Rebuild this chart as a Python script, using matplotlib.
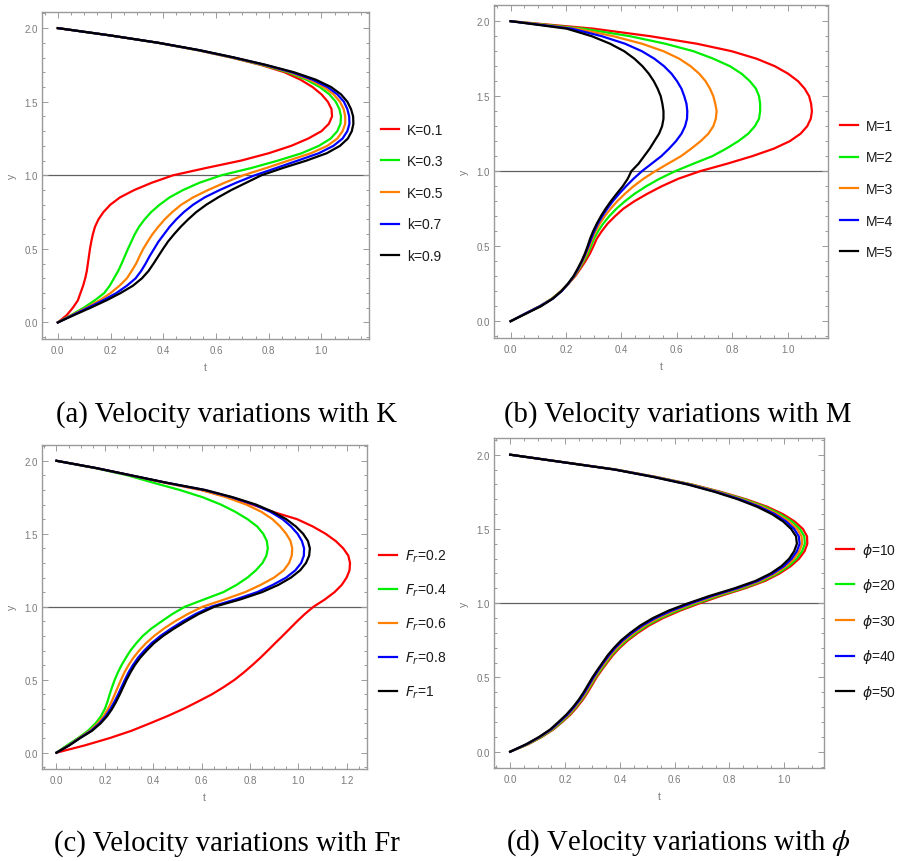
import matplotlib
matplotlib.use('Agg')
import matplotlib.pyplot as plt
from matplotlib.font_manager import FontProperties
from matplotlib.ticker import MultipleLocator, FormatStrFormatter

plt.rcParams['font.family'] = ['Liberation Sans', 'DejaVu Sans']
plt.rcParams['mathtext.fontset'] = 'dejavusans'

# velocity profiles: t sampled along the channel height y
y = [0.00, 0.05, 0.10, 0.15, 0.20, 0.25, 0.30, 0.35, 0.40, 0.45,
     0.50, 0.55, 0.60, 0.65, 0.70, 0.75, 0.80, 0.85, 0.90, 0.95,
     1.00, 1.05, 1.10, 1.15, 1.20, 1.25, 1.30, 1.35, 1.40, 1.45,
     1.50, 1.55, 1.60, 1.65, 1.70, 1.75, 1.80, 1.85, 1.90, 1.95, 2.00]

# (a) varying K
labels_K = ['K=0.1', 'K=0.3', 'K=0.5', 'k=0.7', 'k=0.9']
t_K01 = [0, 0.034, 0.057, 0.076, 0.086, 0.096, 0.104, 0.110, 0.114, 0.118,
         0.122, 0.127, 0.133, 0.141, 0.154, 0.173, 0.199, 0.236, 0.290, 0.357,
         0.437, 0.563, 0.695, 0.800, 0.885, 0.950, 1.000, 1.028, 1.040, 1.038,
         1.024, 1.000, 0.966, 0.920, 0.860, 0.770, 0.658, 0.530, 0.380, 0.200, 0]
t_K03 = [0, 0.050, 0.098, 0.140, 0.176, 0.197, 0.213, 0.229, 0.242, 0.254,
         0.266, 0.279, 0.292, 0.308, 0.329, 0.354, 0.386, 0.424, 0.475, 0.538,
         0.620, 0.735, 0.835, 0.925, 0.990, 1.035, 1.060, 1.072, 1.074, 1.068,
         1.054, 1.030, 0.993, 0.942, 0.872, 0.776, 0.661, 0.532, 0.380, 0.200, 0]
t_K05 = [0, 0.053, 0.108, 0.158, 0.200, 0.234, 0.262, 0.280, 0.297, 0.310,
         0.324, 0.341, 0.359, 0.381, 0.405, 0.434, 0.468, 0.513, 0.570, 0.633,
         0.703, 0.791, 0.875, 0.960, 1.022, 1.060, 1.080, 1.090, 1.090, 1.084,
         1.070, 1.046, 1.008, 0.954, 0.880, 0.781, 0.664, 0.534, 0.381, 0.200, 0]
t_K07 = [0, 0.057, 0.114, 0.171, 0.222, 0.262, 0.295, 0.316, 0.333, 0.348,
         0.365, 0.382, 0.403, 0.424, 0.449, 0.478, 0.513, 0.557, 0.614, 0.677,
         0.747, 0.829, 0.910, 0.990, 1.045, 1.080, 1.098, 1.106, 1.105, 1.098,
         1.085, 1.060, 1.022, 0.966, 0.888, 0.786, 0.667, 0.536, 0.382, 0.200, 0]
t_K09 = [0, 0.061, 0.124, 0.184, 0.238, 0.285, 0.319, 0.344, 0.363, 0.381,
         0.399, 0.418, 0.441, 0.466, 0.494, 0.525, 0.563, 0.608, 0.658, 0.715,
         0.772, 0.854, 0.943, 1.020, 1.070, 1.100, 1.115, 1.121, 1.120, 1.112,
         1.098, 1.074, 1.036, 0.978, 0.896, 0.790, 0.670, 0.538, 0.383, 0.200, 0]

# (b) varying M
labels_M = ['M=1', 'M=2', 'M=3', 'M=4', 'M=5']
t_M1 = [0, 0.053, 0.105, 0.149, 0.181, 0.209, 0.233, 0.252, 0.270, 0.286,
        0.299, 0.311, 0.329, 0.350, 0.377, 0.407, 0.447, 0.494, 0.546, 0.606,
        0.684, 0.782, 0.872, 0.950, 1.008, 1.047, 1.071, 1.084, 1.088, 1.085,
        1.078, 1.062, 1.038, 1.002, 0.954, 0.888, 0.798, 0.672, 0.504, 0.300, 0]
t_M2 = [0, 0.053, 0.105, 0.149, 0.182, 0.208, 0.230, 0.248, 0.264, 0.279,
        0.290, 0.301, 0.316, 0.334, 0.356, 0.382, 0.413, 0.448, 0.490, 0.538,
        0.594, 0.660, 0.728, 0.778, 0.822, 0.858, 0.882, 0.897, 0.901, 0.901,
        0.897, 0.886, 0.864, 0.834, 0.792, 0.732, 0.660, 0.558, 0.431, 0.263, 0]
t_M3 = [0, 0.053, 0.106, 0.150, 0.183, 0.208, 0.229, 0.246, 0.261, 0.274,
        0.285, 0.295, 0.307, 0.322, 0.340, 0.361, 0.385, 0.413, 0.444, 0.480,
        0.522, 0.568, 0.615, 0.652, 0.686, 0.714, 0.732, 0.741, 0.744, 0.739,
        0.732, 0.720, 0.704, 0.681, 0.650, 0.609, 0.552, 0.474, 0.371, 0.239, 0]
t_M4 = [0, 0.052, 0.106, 0.152, 0.184, 0.208, 0.228, 0.244, 0.258, 0.270,
        0.281, 0.291, 0.302, 0.315, 0.331, 0.349, 0.369, 0.392, 0.417, 0.444,
        0.474, 0.509, 0.544, 0.572, 0.597, 0.617, 0.630, 0.637, 0.638, 0.635,
        0.627, 0.617, 0.601, 0.581, 0.554, 0.519, 0.474, 0.413, 0.329, 0.221, 0]
t_M5 = [0, 0.055, 0.110, 0.152, 0.183, 0.207, 0.227, 0.242, 0.256, 0.268,
        0.278, 0.287, 0.298, 0.311, 0.326, 0.343, 0.362, 0.383, 0.405, 0.423,
        0.436, 0.462, 0.482, 0.502, 0.519, 0.536, 0.547, 0.552, 0.552, 0.548,
        0.542, 0.531, 0.517, 0.499, 0.476, 0.447, 0.410, 0.359, 0.293, 0.203, 0]

# (c) varying Fr
labels_Fr = ['$F_r$=0.2', '$F_r$=0.4', '$F_r$=0.6', '$F_r$=0.8', '$F_r$=1']
t_Fr02 = [0, 0.117, 0.220, 0.310, 0.385, 0.458, 0.525, 0.585, 0.643, 0.692,
          0.737, 0.775, 0.810, 0.843, 0.874, 0.904, 0.935, 0.965, 0.995, 1.027,
          1.063, 1.110, 1.150, 1.180, 1.200, 1.212, 1.214, 1.207, 1.186, 1.155,
          1.113, 1.060, 0.995, 0.895, 0.810, 0.715, 0.600, 0.450, 0.306, 0.163, 0]
t_Fr04 = [0, 0.043, 0.089, 0.130, 0.161, 0.184, 0.200, 0.211, 0.220, 0.230,
          0.241, 0.254, 0.269, 0.287, 0.306, 0.330, 0.357, 0.392, 0.435, 0.479,
          0.531, 0.610, 0.690, 0.745, 0.790, 0.825, 0.852, 0.868, 0.874, 0.870,
          0.855, 0.830, 0.790, 0.740, 0.680, 0.605, 0.510, 0.400, 0.295, 0.160, 0]
t_Fr06 = [0, 0.050, 0.093, 0.138, 0.170, 0.195, 0.213, 0.228, 0.241, 0.254,
          0.267, 0.281, 0.298, 0.318, 0.342, 0.370, 0.404, 0.444, 0.490, 0.543,
          0.604, 0.695, 0.780, 0.845, 0.900, 0.940, 0.962, 0.973, 0.975, 0.968,
          0.950, 0.925, 0.893, 0.848, 0.785, 0.702, 0.597, 0.448, 0.306, 0.163, 0]
t_Fr08 = [0, 0.052, 0.096, 0.143, 0.177, 0.203, 0.223, 0.240, 0.255, 0.269,
          0.283, 0.298, 0.316, 0.337, 0.363, 0.393, 0.430, 0.474, 0.522, 0.575,
          0.640, 0.740, 0.830, 0.895, 0.950, 0.988, 1.012, 1.023, 1.024, 1.015,
          0.997, 0.970, 0.935, 0.885, 0.818, 0.725, 0.612, 0.453, 0.309, 0.164, 0]
t_Fr1 = [0, 0.053, 0.098, 0.147, 0.182, 0.209, 0.230, 0.247, 0.262, 0.276,
         0.290, 0.306, 0.324, 0.346, 0.373, 0.403, 0.441, 0.486, 0.535, 0.588,
         0.653, 0.760, 0.850, 0.918, 0.970, 1.008, 1.032, 1.045, 1.048, 1.040,
         1.020, 0.990, 0.950, 0.895, 0.825, 0.730, 0.615, 0.455, 0.310, 0.165, 0]

# (d) varying phi
labels_phi = [r'$\phi$=10', r'$\phi$=20', r'$\phi$=30', r'$\phi$=40', r'$\phi$=50']
t_phi10 = [0, 0.066, 0.116, 0.158, 0.190, 0.220, 0.244, 0.265, 0.283, 0.299,
           0.315, 0.334, 0.354, 0.375, 0.400, 0.430, 0.466, 0.507, 0.558, 0.620,
           0.692, 0.770, 0.856, 0.930, 0.983, 1.024, 1.054, 1.074, 1.084, 1.083,
           1.068, 1.038, 0.995, 0.937, 0.860, 0.768, 0.662, 0.533, 0.386, 0.193, 0]
t_phi20 = [0, 0.064, 0.114, 0.155, 0.187, 0.216, 0.240, 0.261, 0.279, 0.295,
           0.311, 0.330, 0.350, 0.370, 0.395, 0.424, 0.459, 0.499, 0.549, 0.610,
           0.682, 0.760, 0.847, 0.921, 0.975, 1.016, 1.045, 1.065, 1.075, 1.073,
           1.057, 1.028, 0.985, 0.928, 0.853, 0.762, 0.658, 0.530, 0.385, 0.192, 0]
t_phi30 = [0, 0.062, 0.111, 0.152, 0.183, 0.213, 0.237, 0.258, 0.276, 0.292,
           0.308, 0.326, 0.346, 0.366, 0.390, 0.418, 0.452, 0.491, 0.540, 0.599,
           0.671, 0.750, 0.837, 0.913, 0.967, 1.007, 1.036, 1.055, 1.065, 1.063,
           1.047, 1.017, 0.975, 0.919, 0.845, 0.757, 0.654, 0.528, 0.383, 0.192, 0]
t_phi40 = [0, 0.060, 0.108, 0.149, 0.180, 0.209, 0.233, 0.254, 0.272, 0.288,
           0.304, 0.322, 0.341, 0.361, 0.384, 0.411, 0.445, 0.483, 0.530, 0.589,
           0.661, 0.739, 0.828, 0.904, 0.958, 0.999, 1.027, 1.046, 1.056, 1.053,
           1.036, 1.007, 0.965, 0.909, 0.838, 0.751, 0.650, 0.525, 0.382, 0.191, 0]
t_phi50 = [0, 0.058, 0.106, 0.146, 0.176, 0.205, 0.229, 0.250, 0.268, 0.284,
           0.300, 0.318, 0.337, 0.356, 0.379, 0.405, 0.438, 0.475, 0.521, 0.578,
           0.650, 0.729, 0.818, 0.895, 0.950, 0.990, 1.018, 1.036, 1.046, 1.043,
           1.025, 0.996, 0.955, 0.900, 0.830, 0.745, 0.646, 0.522, 0.380, 0.190, 0]

colors = ['#ff0000', '#00ee00', '#ff8000', '#0000ff', '#000000']
FRAME = '#9a9a9a'
TICKTXT = '#7a7a7a'

fig = plt.figure(figsize=(8.99, 8.62), dpi=100)


def velocity_panel(rect, curves, labels, xmax, caption, cap_xy):
    ax = fig.add_axes(rect)
    for t, c, lab in zip(curves, colors, labels):
        ax.plot(t, y, color=c, lw=1.6, label=lab, solid_joinstyle='round')
    ax.axhline(1.0, color='#606060', lw=0.9, zorder=0)

    ax.set_xlim(-0.06, xmax)
    ax.set_ylim(-0.112, 2.11)
    ax.xaxis.set_major_locator(MultipleLocator(0.2))
    ax.xaxis.set_minor_locator(MultipleLocator(0.05))
    ax.yaxis.set_major_locator(MultipleLocator(0.5))
    ax.yaxis.set_minor_locator(MultipleLocator(0.1))
    ax.xaxis.set_major_formatter(FormatStrFormatter('%.1f'))
    ax.yaxis.set_major_formatter(FormatStrFormatter('%.1f'))
    ax.tick_params(which='both', direction='in', top=True, right=True,
                   color=FRAME, width=0.7, labelsize=7, labelcolor=TICKTXT)
    ax.tick_params(which='major', length=4)
    ax.tick_params(which='minor', length=2)
    ax.tick_params(axis='x', pad=4)
    ax.tick_params(axis='y', pad=3)
    for sp in ax.spines.values():
        sp.set_color(FRAME)
        sp.set_linewidth(1.0)

    ax.set_xlabel('t', fontsize=7.5, color=TICKTXT)
    ax.set_ylabel('y', fontsize=7.5, color=TICKTXT)
    w_px = rect[2] * 899
    h_px = rect[3] * 862
    ax.xaxis.set_label_coords(0.5, -23 / h_px)
    ax.yaxis.set_label_coords(-25 / w_px, 1.112 / 2.222)

    ax.legend(loc='center left', bbox_to_anchor=(1 + 12 / w_px, 0.447),
              frameon=False, borderpad=0, borderaxespad=0,
              handlelength=1.3, handletextpad=0.6, labelspacing=1.27,
              prop=FontProperties(family=['Liberation Sans', 'DejaVu Sans'],
                                  size=10, math_fontfamily='dejavusans'),
              labelcolor='#1a1a1a')

    fig.text(cap_xy[0], cap_xy[1], caption, ha='center', va='center',
             fontsize=20.7, family='Liberation Serif', math_fontfamily='stix')
    return ax


velocity_panel([0.0467, 0.6056, 0.3637, 0.3794],
               [t_K01, t_K03, t_K05, t_K07, t_K09], labels_K, 1.18,
               '(a) Velocity variations with K', (0.2525, 0.519))
velocity_panel([0.5495, 0.6067, 0.3715, 0.3867],
               [t_M1, t_M2, t_M3, t_M4, t_M5], labels_M, 1.146,
               '(b) Velocity variations with M', (0.7542, 0.519))
velocity_panel([0.0467, 0.1067, 0.3612, 0.3762],
               [t_Fr02, t_Fr04, t_Fr06, t_Fr08, t_Fr1], labels_Fr, 1.283,
               '(c) Velocity variations with Fr', (0.2525, 0.022))
velocity_panel([0.5492, 0.1075, 0.3674, 0.3828],
               [t_phi10, t_phi20, t_phi30, t_phi40, t_phi50], labels_phi, 1.145,
               r'(d) Velocity variations with $\phi$', (0.7542, 0.022))

fig.savefig('out.png', dpi=100)
